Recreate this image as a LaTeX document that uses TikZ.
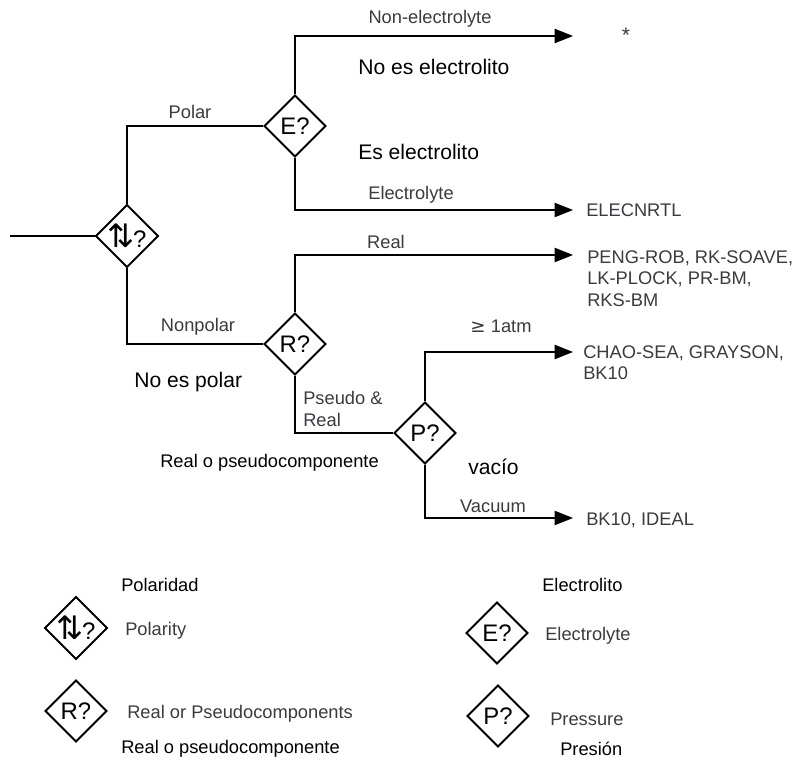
\documentclass[tikz,border=0pt]{standalone}
\usepackage{fontspec}
\setmainfont{Liberation Sans}
\newfontfamily\symfont{DejaVu Sans}
\usepackage{tikz}
\usetikzlibrary{arrows.meta,shapes.geometric}
\definecolor{lblgray}{RGB}{58,58,64}
\newcommand{\polsym}{{\symfont\fontsize{23}{23}\selectfont ⇅}\kern-1pt?}

\begin{document}
\begin{tikzpicture}[x=0.025cm,y=-0.025cm,
  dec/.style={diamond,draw,line width=1.4pt,aspect=1,minimum size=1.55cm,
              inner sep=0pt,font=\fontsize{17}{20}\selectfont},
  wire/.style={line width=1.4pt},
  flow/.style={wire,-{Triangle[length=13pt,width=10pt]}},
  tag/.style={font=\fontsize{13}{15.5}\selectfont,text=lblgray,inner sep=0pt},
  note/.style={font=\fontsize{15}{18}\selectfont,inner sep=0pt,anchor=west},
  small/.style={font=\fontsize{13}{16}\selectfont,inner sep=0pt,anchor=west}]

\useasboundingbox (0,0) rectangle (805,762);

% decision diamonds
\node[dec] (pol) at (127,236) {\polsym};
\node[dec] (E)   at (295,126) {E?};
\node[dec] (R)   at (295,344) {R?};
\node[dec] (P)   at (425,433) {P?};

% free ends
\coordinate (in) at (10,236);
\foreach \n/\y in {t1/36,t2/210,t3/255,t4/352,t5/518}
  \coordinate (\n) at (573,\y);

% connectors
\draw[wire] (in) -- (pol.west);
\draw[wire] (pol.north) |- (E.west);
\draw[wire] (pol.south) |- (R.west);
\draw[wire] (R.south) |- (P.west);
\foreach \s/\t in {E.north/t1,E.south/t2,R.north/t3,P.north/t4,P.south/t5}
  \draw[flow] (\s) |- (\t);

% branch labels
\node[tag] (lpolar) at (190,112) {Polar};
\node[tag] (lnone)  at (430,19)  {Non-electrolyte};
\node[tag] (lelec)  at (411,195) {Electrolyte};
\node[tag] (lreal)  at (386,242) {Real};
\node[tag] (lnonp)  at (198,327) {Nonpolar};
\node[tag,anchor=north west,align=left] (lpseudo) at (303,391)
  {Pseudo \&\\Real};
\node[tag] (latm)   at (501,326) {{\symfont ≥} 1atm};
\node[tag] (lvac)   at (493,506) {Vacuum};

% methods
\node[tag,font=\fontsize{15}{18}\selectfont] (star) at (626,35) {*};
\node[tag,anchor=west] (m2) at (586,210) {ELECNRTL};
\node[tag,anchor=north west,align=left] (m3) at (587,250)
  {PENG-ROB, RK-SOAVE,\\LK-PLOCK, PR-BM,\\RKS-BM};
\node[tag,anchor=north west,align=left] (m4) at (583,345)
  {CHAO-SEA, GRAYSON,\\BK10};
\node[tag,anchor=west] (m5) at (586,520) {BK10, IDEAL};

% spanish notes
\node[note] (n1) at (358,67)  {No es electrolito};
\node[note] (n2) at (358,152) {Es electrolito};
\node[note] (n3) at (134,382) {No es polar};
\node[small] (n4) at (160,463) {Real o pseudocomponente};
\node[note] (n5) at (468,467) {vacío};

% legend: {x, y, name, symbol, english, tx}
\foreach \x/\y/\nm/\sym/\en/\tx in {
   76/628/kpol/{\polsym}/Polarity/125,
   76/711/kR/{R?}/Real or Pseudocomponents/127,
   497/633/kE/{E?}/Electrolyte/545,
   498/716/kP/{P?}/Pressure/550}{
  \node[dec] (\nm) at (\x,\y) {\sym};
  \node[tag,anchor=west] (\nm-txt) at (\tx,\y+3) {\en};
}
\node[small] (k1) at (121,585) {Polaridad};
\node[small] (k2) at (121,749) {Real o pseudocomponente};
\node[small] (k3) at (542,585) {Electrolito};
\node[small] (k4) at (560,749) {Presión};

\end{tikzpicture}
\end{document}
